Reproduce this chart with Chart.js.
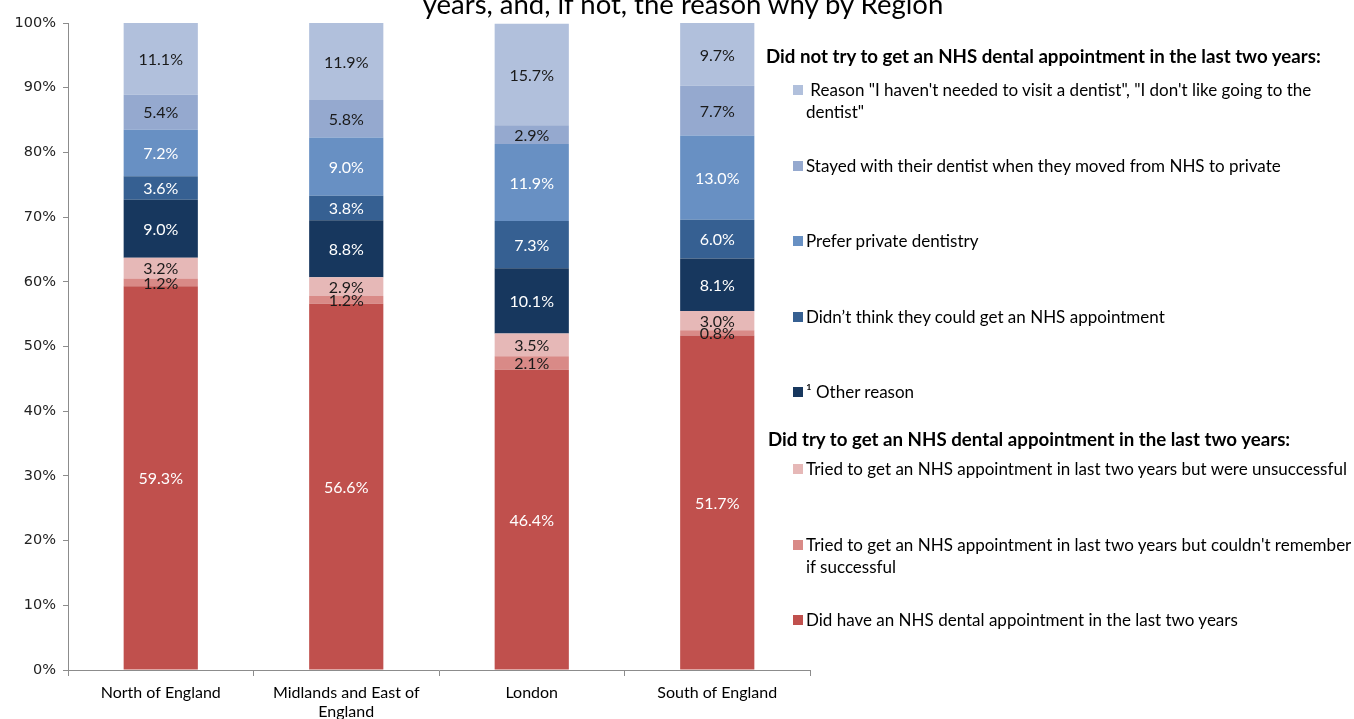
<!DOCTYPE html>
<html>
<head>
<meta charset="utf-8">
<script src="https://cdn.jsdelivr.net/npm/chart.js@4.4.0/dist/chart.umd.min.js"></script>
<style>
  html, body { margin: 0; padding: 0; background: #fff; overflow: hidden; }
  #wrap { position: relative; width: 1354px; height: 719px; overflow: hidden; }
  #chart { position: absolute; left: 0; top: 0; }
  #title { position: absolute; left: 0; width: 1366px; top: -13px; text-align: center; line-height: 30px;
           font: 27.5px Lato, sans-serif; color: #000; white-space: nowrap; }
  .hdr { position: absolute; font: bold 18.7px Lato, sans-serif; color: #000; white-space: nowrap; line-height: 22px; }
  .item { position: absolute; left: 806px; font: 17px Lato, sans-serif; color: #000; white-space: pre; line-height: 22px; }
  .sw { position: absolute; left: -13px; top: 6px; width: 10px; height: 10px; }
</style>
</head>
<body>
<div id="wrap">
  <canvas id="chart" width="1354" height="719"></canvas>
  <div id="title">years, and, if not, the reason why by Region</div>
  <div id="legend"></div>
</div>
<script>
// Regions along the x axis
const regions = ['North of England', ['Midlands and East of', 'England'], 'London', 'South of England'];

// Share of adults (%) in each group, bottom of the stack first
const hadAppointment = [59.3, 56.6, 46.4, 51.7];
const triedCantRemember = [1.2, 1.2, 2.1, 0.8];
const triedUnsuccessful = [3.2, 2.9, 3.5, 3.0];
const otherReason = [9.0, 8.8, 10.1, 8.1];
const didntThinkCouldGet = [3.6, 3.8, 7.3, 6.0];
const preferPrivate = [7.2, 9.0, 11.9, 13.0];
const stayedWithDentist = [5.4, 5.8, 2.9, 7.7];
const notNeeded = [11.1, 11.9, 15.7, 9.7];

const yTicks = [0, 10, 20, 30, 40, 50, 60, 70, 80, 90, 100];

const series = [
  { label: ['Did have an NHS dental appointment in the last two years'], data: hadAppointment, color: '#C0504D', text: '#ffffff' },
  { label: ["Tried to get an NHS appointment in last two years but couldn't remember", 'if successful'], data: triedCantRemember, color: '#D98A87', text: '#1a1a1a' },
  { label: ['Tried to get an NHS appointment in last two years but were unsuccessful'], data: triedUnsuccessful, color: '#E6B8B7', text: '#1a1a1a' },
  { label: ['\u00B9 Other reason'], data: otherReason, color: '#17375E', text: '#ffffff' },
  { label: ['Didn\u2019t think they could get an NHS appointment'], data: didntThinkCouldGet, color: '#366092', text: '#ffffff' },
  { label: ['Prefer private dentistry'], data: preferPrivate, color: '#6890C3', text: '#ffffff' },
  { label: ['Stayed with their dentist when they moved from NHS to private'], data: stayedWithDentist, color: '#95A9CF', text: '#1a1a1a' },
  { label: [' Reason "I haven\'t needed to visit a dentist", "I don\'t like going to the', 'dentist"'], data: notNeeded, color: '#B1C0DC', text: '#1a1a1a' }
];

// value labels in the middle of each segment
const segmentLabels = {
  id: 'segmentLabels',
  afterDatasetsDraw(chart) {
    const ctx = chart.ctx;
    ctx.save();
    ctx.font = '16px Lato, sans-serif';
    ctx.textAlign = 'center';
    ctx.textBaseline = 'middle';
    chart.data.datasets.forEach((ds, i) => {
      chart.getDatasetMeta(i).data.forEach((bar, j) => {
        ctx.fillStyle = series[i].text;
        ctx.fillText(ds.data[j].toFixed(1) + '%', bar.x, (bar.y + bar.base) / 2 + 1);
      });
    });
    ctx.restore();
  }
};

new Chart(document.getElementById('chart'), {
  type: 'bar',
  data: {
    labels: regions,
    datasets: series.map(s => ({
      label: s.label.join(' '),
      data: s.data,
      backgroundColor: s.color,
      borderWidth: 0,
      categoryPercentage: 1,
      barPercentage: 0.4
    }))
  },
  options: {
    responsive: false,
    animation: false,
    layout: { padding: { top: 23, right: 544, left: 0, bottom: 0 } },
    plugins: { legend: { display: false }, tooltip: { enabled: false }, title: { display: false } },
    scales: {
      x: {
        stacked: true,
        border: { color: '#8c8c8c' },
        grid: { drawOnChartArea: false, color: '#8c8c8c', tickLength: 6, offset: true },
        ticks: { color: '#000', font: { family: 'Lato, sans-serif', size: 16, lineHeight: 1.15 }, padding: 8, maxRotation: 0 },
        afterFit(scale) { scale.height = 49; }
      },
      y: {
        stacked: true,
        min: 0,
        max: 100,
        border: { color: '#8c8c8c' },
        grid: { drawOnChartArea: false, color: '#8c8c8c', tickLength: 5 },
        afterBuildTicks(scale) { scale.ticks = yTicks.map(v => ({ value: v })); },
        ticks: { color: '#222', font: { family: '"DejaVu Sans", sans-serif', size: 14.5 }, padding: 7, callback: v => v + '%' },
        afterFit(scale) { scale.width = 68; }
      }
    }
  },
  plugins: [segmentLabels]
});

// legend on the right: group headers and one row per series, top series first
const legend = document.getElementById('legend');
const headers = [
  { text: 'Did not try to get an NHS dental appointment in the last two years:', x: 766, y: 56 },
  { text: 'Did try to get an NHS dental appointment in the last two years:', x: 768, y: 439 }
];
const rowCentres = [90, 166, 241, 317, 392, 469, 545, 620];
headers.forEach(h => {
  const d = document.createElement('div');
  d.className = 'hdr';
  d.textContent = h.text;
  d.style.left = h.x + 'px';
  d.style.top = (h.y - 11) + 'px';
  legend.appendChild(d);
});
series.slice().reverse().forEach((s, i) => {
  const d = document.createElement('div');
  d.className = 'item';
  d.style.top = (rowCentres[i] - 11) + 'px';
  d.textContent = s.label.join('\n');
  const sw = document.createElement('span');
  sw.className = 'sw';
  sw.style.background = s.color;
  d.appendChild(sw);
  legend.appendChild(d);
});
</script>
</body>
</html>
